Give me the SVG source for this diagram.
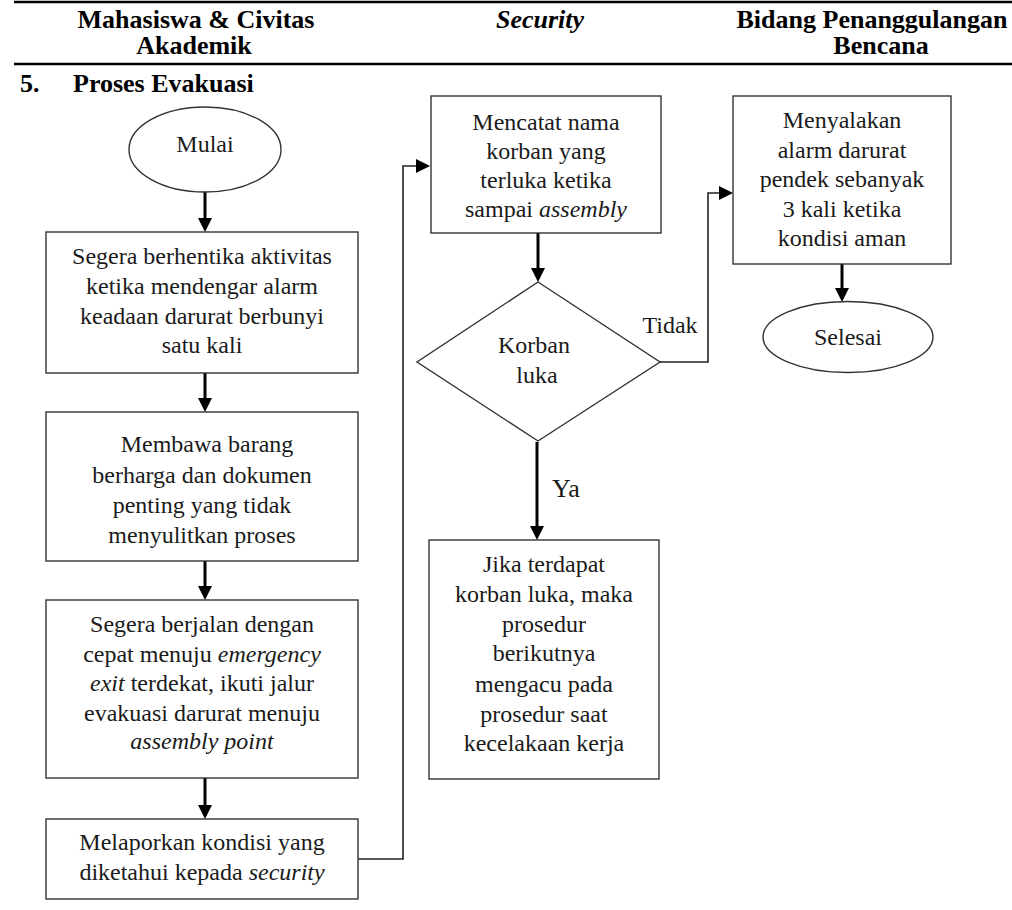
<svg xmlns="http://www.w3.org/2000/svg" width="1012" height="910" viewBox="0 0 1012 910">
<style>
text{font-family:"Liberation Serif","Times New Roman",serif;fill:#1a1a1a;}
.h{font-size:26px;font-weight:bold;fill:#000;}
.t{font-size:24px;text-anchor:middle;}
.i{font-style:italic;}
.box{fill:#fff;stroke:#333;stroke-width:1.4;}
.rule{stroke:#000;stroke-width:2.5;fill:none;}
.arr{stroke:#000;stroke-width:3;fill:none;}
.con{stroke:#222;stroke-width:1.6;fill:none;}
</style>
<defs>
<marker id="ah" viewBox="0 0 14 14" refX="4" refY="7" markerWidth="14" markerHeight="14" markerUnits="userSpaceOnUse" orient="auto">
<path d="M0,0 L14,7 L0,14 z" fill="#000"/>
</marker>
</defs>
<rect width="1012" height="910" fill="#fff"/>
<g id="header">
<line class="rule" x1="14" y1="2" x2="1012" y2="2"/>
<line class="rule" x1="14" y1="64" x2="1012" y2="64"/>
<text class="h" x="196" y="28" text-anchor="middle">Mahasiswa &amp; Civitas</text>
<text class="h" x="194" y="54" text-anchor="middle">Akademik</text>
<text class="h i" x="540" y="28" text-anchor="middle">Security</text>
<text class="h" x="872" y="28" text-anchor="middle">Bidang Penanggulangan</text>
<text class="h" x="881" y="54" text-anchor="middle">Bencana</text>
<text class="h" x="20" y="92">5.</text>
<text class="h" x="73" y="92">Proses Evakuasi</text>
</g>
<g id="connectors">
<path class="arr" d="M205,192 V222" marker-end="url(#ah)"/>
<path class="arr" d="M205,373 V402" marker-end="url(#ah)"/>
<path class="arr" d="M205,561 V590" marker-end="url(#ah)"/>
<path class="arr" d="M205,778 V809" marker-end="url(#ah)"/>
<path class="con" d="M358,859 H403 V166 H420" marker-end="url(#ah)"/>
<path class="arr" d="M538,233 V272" marker-end="url(#ah)"/>
<path class="con" d="M660,362 H708 V193 H723" marker-end="url(#ah)"/>
<path class="arr" d="M537,442 V530" marker-end="url(#ah)"/>
<path class="arr" d="M842,264 V292" marker-end="url(#ah)"/>
<text class="t" x="670" y="333">Tidak</text>
<text x="552" y="497" style="font-size:26px">Ya</text>
</g>
<g id="mulai">
<ellipse class="box" cx="205" cy="149.5" rx="76" ry="42.5"/>
<text class="t" x="205" y="152">Mulai</text>
</g>
<g id="box1">
<rect class="box" x="46" y="232" width="312" height="141"/>
<text class="t" x="202" y="264">Segera berhentika aktivitas</text>
<text class="t" x="202" y="294">ketika mendengar alarm</text>
<text class="t" x="202" y="324">keadaan darurat berbunyi</text>
<text class="t" x="202" y="353">satu kali</text>
</g>
<g id="box2">
<rect class="box" x="46" y="412" width="312" height="149"/>
<text class="t" x="207" y="452">Membawa barang</text>
<text class="t" x="202" y="483">berharga dan dokumen</text>
<text class="t" x="202" y="513">penting yang tidak</text>
<text class="t" x="202" y="543">menyulitkan proses</text>
</g>
<g id="box3">
<rect class="box" x="46" y="600" width="312" height="178"/>
<text class="t" x="202" y="632">Segera berjalan dengan</text>
<text class="t" x="202" y="662">cepat menuju <tspan class="i">emergency</tspan></text>
<text class="t" x="202" y="691"><tspan class="i">exit</tspan> terdekat, ikuti jalur</text>
<text class="t" x="202" y="721">evakuasi darurat menuju</text>
<text class="t i" x="202" y="749">assembly point</text>
</g>
<g id="box4">
<rect class="box" x="46" y="819" width="312" height="80"/>
<text class="t" x="202" y="850">Melaporkan kondisi yang</text>
<text class="t" x="202" y="880">diketahui kepada <tspan class="i">security</tspan></text>
</g>
<g id="box5">
<rect class="box" x="431" y="96" width="230" height="137"/>
<text class="t" x="546" y="130">Mencatat nama</text>
<text class="t" x="546" y="159">korban yang</text>
<text class="t" x="546" y="188">terluka ketika</text>
<text class="t" x="546" y="217">sampai <tspan class="i">assembly</tspan></text>
</g>
<g id="decision">
<polygon class="box" points="538,282 660,362 538,441 417,362"/>
<text class="t" x="534" y="353">Korban</text>
<text class="t" x="537" y="383">luka</text>
</g>
<g id="box7">
<rect class="box" x="429" y="540" width="230" height="239"/>
<text class="t" x="544" y="572">Jika terdapat</text>
<text class="t" x="544" y="602">korban luka, maka</text>
<text class="t" x="544" y="632">prosedur</text>
<text class="t" x="544" y="661">berikutnya</text>
<text class="t" x="544" y="692">mengacu pada</text>
<text class="t" x="544" y="722">prosedur saat</text>
<text class="t" x="544" y="751">kecelakaan kerja</text>
</g>
<g id="box6">
<rect class="box" x="733" y="96" width="218" height="168"/>
<text class="t" x="842" y="128">Menyalakan</text>
<text class="t" x="842" y="158">alarm darurat</text>
<text class="t" x="842" y="187">pendek sebanyak</text>
<text class="t" x="842" y="217">3 kali ketika</text>
<text class="t" x="842" y="246">kondisi aman</text>
</g>
<g id="selesai">
<ellipse class="box" cx="848" cy="337" rx="85" ry="35.5"/>
<text class="t" x="848" y="345">Selesai</text>
</g>
</svg>
